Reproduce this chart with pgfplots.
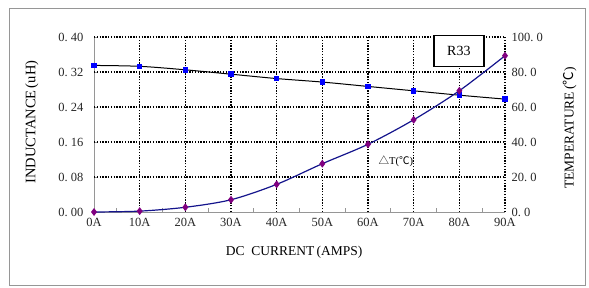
\documentclass[border=0pt]{standalone}
\usepackage{pgfplots}
\pgfplotsset{compat=1.18}
\usepackage{fontspec}
\setmainfont{Liberation Serif}
\newfontfamily\cjk{Noto Sans CJK SC}
\definecolor{sqblue}{RGB}{0,0,255}
\definecolor{dpurple}{RGB}{128,0,128}
\definecolor{navyl}{RGB}{20,20,140}
\definecolor{framegray}{RGB}{150,150,150}
\tikzset{mygrid/.style={black, dash pattern=on 1.4pt off 1.4pt, line width=1.1pt}}
\begin{document}
\begin{tikzpicture}
\useasboundingbox (0pt,0pt) rectangle (589pt,287pt);
\draw[framegray, line width=0.8pt] (9.5pt,2pt) rectangle (585pt,279pt);
\begin{axis}[
  at={(94pt,75pt)}, anchor=south west,
  scale only axis, width=411pt, height=175pt,
  xmin=0, xmax=9, ymin=0, ymax=0.40,
  axis x line*=bottom, axis y line*=left,
  axis line style={framegray, line width=0.8pt, -},
  xtick={0,...,9},
  xticklabels={0A,10A,20A,30A,40A,50A,60A,70A,80A,90A},
  minor x tick num=1,
  ytick={0,0.08,0.16,0.24,0.32,0.40},
  yticklabels={0.\ 00,0.\ 08,0.\ 16,0.\ 24,0.\ 32,0.\ 40},
  major tick length=3pt,
  minor tick length=4pt,
  tick align=inside,
  major x tick style={draw=none},
  major y tick style={draw=framegray, line width=0.7pt},
  minor tick style={draw=framegray, line width=0.7pt},
  ticklabel style={font=\fontsize{12.5}{14}\selectfont, color=black!85},
  yticklabel style={xshift=-7pt},
  xticklabel style={yshift=-3pt},
  xlabel={DC\ \ CURRENT\,(AMPS)},
  xlabel style={at={(axis description cs:0.487,-0.23)}, anchor=center, font=\fontsize{13.5}{15}\selectfont},
  ylabel={INDUCTANCE\,(uH)},
  ylabel style={at={(axis description cs:-0.151,0.514)}, anchor=center, font=\fontsize{14.5}{16}\selectfont},
  clip=false,
]
\pgfplotsinvokeforeach{1,...,9}{\draw[mygrid] (axis cs:#1,0) -- (axis cs:#1,0.40);}
\pgfplotsinvokeforeach{0.08,0.16,0.24,0.32,0.40}{\draw[mygrid] (axis cs:0,#1) -- (axis cs:9,#1);}
\addplot[black, line width=1pt, smooth, mark=square*, mark size=2.3pt,
  mark options={sqblue, draw=sqblue}] coordinates {
  (0,0.335) (1,0.333) (2,0.325) (3,0.315) (4,0.305)
  (5,0.297) (6,0.287) (7,0.277) (8,0.267) (9,0.258)};
\end{axis}
\begin{axis}[
  at={(94pt,75pt)}, anchor=south west,
  scale only axis, width=411pt, height=175pt,
  xmin=0, xmax=9, ymin=0, ymax=100,
  axis x line=none, axis y line*=right,
  axis line style={draw=none},
  ytick={0,20,40,60,80,100},
  yticklabels={0.\ 0,20.\ 0,40.\ 0,60.\ 0,80.\ 0,100.\ 0},
  major tick style={draw=none},
  ticklabel style={font=\fontsize{12.5}{14}\selectfont, color=black!85},
  yticklabel style={xshift=3pt},
  ylabel={TEMPERATURE\,({\cjk ℃})},
  ylabel style={at={(axis description cs:1.158,0.48)}, anchor=center, font=\fontsize{13.5}{15}\selectfont},
  clip=false,
]
\addplot[navyl, line width=1.2pt, smooth, mark=diamond*, mark size=3pt,
  mark options={dpurple, draw=dpurple}] coordinates {
  (0,0) (1,0.5) (2,2.7) (3,7.0) (4,15.8)
  (5,27.6) (6,38.7) (7,52.7) (8,69.3) (9,89.3)};
\node[font=\fontsize{10.5}{12}\selectfont] at (axis cs:6.61,29.1) {{\cjk △}T({\cjk ℃})};
\node[draw=black, line width=1.3pt, fill=white, minimum width=50pt, minimum height=31pt,
  font=\fontsize{14}{16}\selectfont] at (axis cs:7.99,92) {R33};
\end{axis}
\end{tikzpicture}
\end{document}
